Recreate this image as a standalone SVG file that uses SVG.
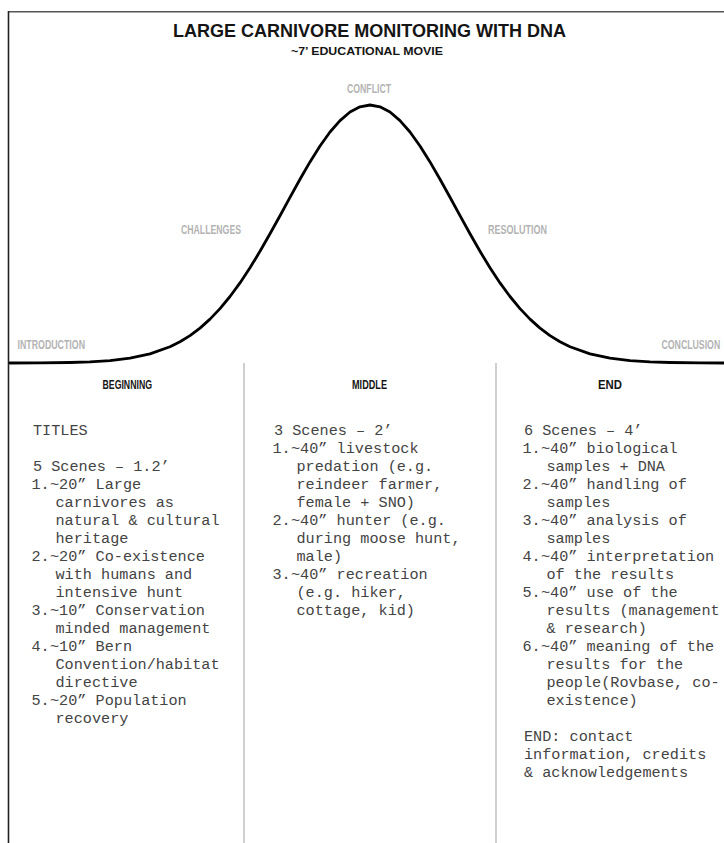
<svg xmlns="http://www.w3.org/2000/svg" width="724" height="843" viewBox="0 0 724 843">
<style>
.title{font-family:"Liberation Sans",Arial,sans-serif;font-weight:bold;fill:#151515}
.stage{font-family:"Liberation Sans",Arial,sans-serif;font-weight:bold;font-size:12.5px;fill:#b3b3b3}
.head{font-family:"Liberation Sans",Arial,sans-serif;font-weight:bold;font-size:13px;fill:#151515}
.mono{font-family:"Liberation Mono","Courier New",monospace;font-size:15.2px;fill:#444}
.frame{stroke:#222;stroke-width:1.6;fill:none}
.divider{stroke:#b0b0b0;stroke-width:1.2;fill:none}
.curve{stroke:#000;stroke-width:2.8;fill:none;stroke-linejoin:round;stroke-linecap:round}
</style>
<rect width="724" height="843" fill="#fff"/>
<g id="frame">
<line class="frame" x1="8.5" y1="11.8" x2="724" y2="11.8" style="stroke:#555"/>
<line class="frame" x1="8.5" y1="11" x2="8.5" y2="843"/>
</g>
<g id="title">
<text class="title" x="173" y="37" font-size="18" textLength="393" lengthAdjust="spacingAndGlyphs">LARGE CARNIVORE MONITORING WITH DNA</text>
<text class="title" x="291" y="55" font-size="10" textLength="152" lengthAdjust="spacingAndGlyphs">~7’ EDUCATIONAL MOVIE</text>
</g>
<g id="connectors">
<path id="arc" class="curve" d="M10,363 L40,362.9 L70,362.5 L90,361.9 L110,360.6 L130,358.2 L150,353.9 L170,346.8 L180,341.8 L190,335.6 L200,328.1 L210,319.1 L220,308.6 L230,296.5 L240,282.9 L250,267.8 L260,251.3 L270,233.8 L280,215.7 L290,197.3 L300,179.2 L310,161.9 L320,146 L330,132 L340,120.6 L350,112 L360,106.8 L370,105 L380,106.8 L390,112 L400,120.6 L410,132 L420,146 L430,161.9 L440,179.2 L450,197.3 L460,215.7 L470,233.8 L480,251.3 L490,267.8 L500,282.9 L510,296.5 L520,308.6 L530,319.1 L540,328.1 L550,335.6 L560,341.8 L570,346.8 L590,353.9 L610,358.2 L630,360.6 L650,361.9 L670,362.5 L700,362.9 L726,363"/>
<line class="divider" x1="244" y1="363" x2="244" y2="843"/>
<line class="divider" x1="496" y1="363" x2="496" y2="843"/>
</g>
<g id="stage-introduction"><text class="stage" x="17.5" y="349" textLength="67.5" lengthAdjust="spacingAndGlyphs">INTRODUCTION</text></g>
<g id="stage-challenges"><text class="stage" x="181" y="234" textLength="60" lengthAdjust="spacingAndGlyphs">CHALLENGES</text></g>
<g id="stage-conflict"><text class="stage" x="347" y="93" textLength="44" lengthAdjust="spacingAndGlyphs">CONFLICT</text></g>
<g id="stage-resolution"><text class="stage" x="488" y="234" textLength="59" lengthAdjust="spacingAndGlyphs">RESOLUTION</text></g>
<g id="stage-conclusion"><text class="stage" transform="translate(661.5,349) scale(0.7,1)" x="0" y="0">CONCLUSION</text></g>
<g id="col-beginning">
<text class="head" x="102.5" y="389" textLength="49.5" lengthAdjust="spacingAndGlyphs">BEGINNING</text>
<text class="mono">
<tspan x="33" y="435">TITLES</tspan>
<tspan x="33" y="471">5 Scenes – 1.2’</tspan>
<tspan x="31.5" y="489">1.</tspan><tspan x="50" y="489">~20” Large</tspan>
<tspan x="55.5" y="507">carnivores as</tspan>
<tspan x="55.5" y="525">natural &amp; cultural</tspan>
<tspan x="55.5" y="543">heritage</tspan>
<tspan x="31.5" y="561">2.</tspan><tspan x="50" y="561">~20” Co-existence</tspan>
<tspan x="55.5" y="579">with humans and</tspan>
<tspan x="55.5" y="597">intensive hunt</tspan>
<tspan x="31.5" y="615">3.</tspan><tspan x="50" y="615">~10” Conservation</tspan>
<tspan x="55.5" y="633">minded management</tspan>
<tspan x="31.5" y="651">4.</tspan><tspan x="50" y="651">~10” Bern</tspan>
<tspan x="55.5" y="669">Convention/habitat</tspan>
<tspan x="55.5" y="687">directive</tspan>
<tspan x="31.5" y="705">5.</tspan><tspan x="50" y="705">~20” Population</tspan>
<tspan x="55.5" y="723">recovery</tspan>
</text>
</g>
<g id="col-middle">
<text class="head" x="352" y="389" textLength="35" lengthAdjust="spacingAndGlyphs">MIDDLE</text>
<text class="mono">
<tspan x="274" y="435">3 Scenes – 2’</tspan>
<tspan x="272.5" y="453">1.</tspan><tspan x="291" y="453">~40” livestock</tspan>
<tspan x="296.5" y="471">predation (e.g.</tspan>
<tspan x="296.5" y="489">reindeer farmer,</tspan>
<tspan x="296.5" y="507">female + SNO)</tspan>
<tspan x="272.5" y="525">2.</tspan><tspan x="291" y="525">~40” hunter (e.g.</tspan>
<tspan x="296.5" y="543">during moose hunt,</tspan>
<tspan x="296.5" y="561">male)</tspan>
<tspan x="272.5" y="579">3.</tspan><tspan x="291" y="579">~40” recreation</tspan>
<tspan x="296.5" y="597">(e.g. hiker,</tspan>
<tspan x="296.5" y="615">cottage, kid)</tspan>
</text>
</g>
<g id="col-end">
<text class="head" x="598" y="389" textLength="24" lengthAdjust="spacingAndGlyphs">END</text>
<text class="mono">
<tspan x="524" y="435">6 Scenes – 4’</tspan>
<tspan x="522.5" y="453">1.</tspan><tspan x="541" y="453">~40” biological</tspan>
<tspan x="546.5" y="471">samples + DNA</tspan>
<tspan x="522.5" y="489">2.</tspan><tspan x="541" y="489">~40” handling of</tspan>
<tspan x="546.5" y="507">samples</tspan>
<tspan x="522.5" y="525">3.</tspan><tspan x="541" y="525">~40” analysis of</tspan>
<tspan x="546.5" y="543">samples</tspan>
<tspan x="522.5" y="561">4.</tspan><tspan x="541" y="561">~40” interpretation</tspan>
<tspan x="546.5" y="579">of the results</tspan>
<tspan x="522.5" y="597">5.</tspan><tspan x="541" y="597">~40” use of the</tspan>
<tspan x="546.5" y="615">results (management</tspan>
<tspan x="546.5" y="633">&amp; research)</tspan>
<tspan x="522.5" y="651">6.</tspan><tspan x="541" y="651">~40” meaning of the</tspan>
<tspan x="546.5" y="669">results for the</tspan>
<tspan x="546.5" y="687">people(Rovbase, co-</tspan>
<tspan x="546.5" y="705">existence)</tspan>
<tspan x="524" y="741">END: contact</tspan>
<tspan x="524" y="759">information, credits</tspan>
<tspan x="524" y="777">&amp; acknowledgements</tspan>
</text>
</g>
</svg>
